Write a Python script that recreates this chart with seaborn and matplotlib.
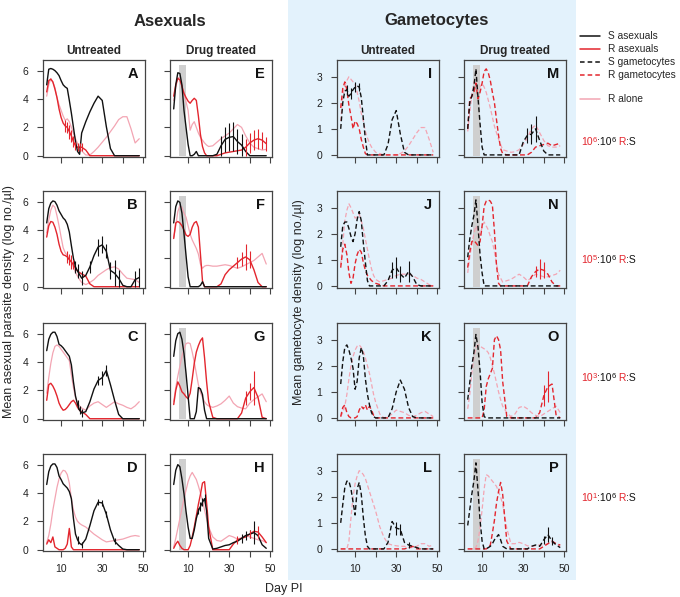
import numpy as np
import pandas as pd
import matplotlib
matplotlib.use('Agg')
from matplotlib import pyplot as plt
from matplotlib.patches import Rectangle
from matplotlib.lines import Line2D
import seaborn as sns

# sampling days (day post infection)
days = [3, 4, 5, 6, 7, 8, 9, 10, 11, 12, 13, 14, 15, 16, 17, 18, 19, 20,
        22, 24, 26, 28, 30, 32, 34, 36, 38, 40, 42, 44, 46, 48]

# ---- asexual densities, untreated (A-D) ----
A_S = [5.0, 6.1, 6.15, 6.1, 6.0, 5.85, 5.65, 5.3, 5.0, 4.85, 4.75, 3.9, 3.0, 2.0, 1.0, 0.3, 0.1, 1.6,
       2.4, 3.1, 3.7, 4.2, 3.9, 2.05, 0.5, 0, 0, 0, 0, 0, 0, 0]
A_R = [4.5, 5.3, 5.4, 5.2, 4.7, 4.1, 3.3, 2.7, 2.3, 2.1, 2.0, 1.7, 1.4, 1.0, 0.7, 0.6, 0.6, 0.6,
       0.4, 0, 0, 0, 0, 0, 0, 0, 0, 0, 0, 0, 0, 0]
A_alone = [4.2, 5.0, 5.45, 5.2, 4.8, 4.1, 3.6, 3.2, 2.8, 2.5, 2.6, 2.4, 2.0, 1.6, 1.2, 0.85, 0.55, 0.35,
           0.05, 0.05, 0.3, 0.6, 0.95, 1.3, 1.7, 2.1, 2.55, 2.75, 2.75, 1.9, 0.9, 1.2]
B_S = [4.5, 5.5, 5.9, 6.05, 6.0, 5.75, 5.35, 5.1, 4.85, 4.7, 4.4, 3.85, 2.9, 2.0, 1.4, 1.1, 0.85, 0.6,
       0.8, 1.4, 2.2, 2.8, 2.95, 2.5, 1.15, 0.95, 0.6, 0.1, 0, 0, 0.5, 0.65]
B_R = [3.5, 4.3, 4.6, 4.55, 4.2, 3.7, 3.0, 2.5, 2.25, 2.2, 2.1, 1.9, 1.75, 1.55, 1.3, 1.1, 1.0, 0.9,
       0.75, 0.2, 0, 0, 0, 0, 0, 0, 0, 0, 0, 0, 0, 0]
B_alone = [3.8, 4.7, 5.4, 5.75, 5.6, 5.0, 4.3, 3.5, 2.75, 2.4, 2.2, 2.0, 1.7, 1.4, 1.0, 0.75, 0.5, 0.3,
           0.15, 0.3, 0.5, 0.8, 1.0, 1.2, 1.35, 1.4, 1.25, 0.9, 0.6, 0.55, 0.5, 0.3]
C_S = [4.8, 5.6, 5.95, 6.1, 6.1, 5.8, 5.25, 5.15, 5.0, 4.8, 4.6, 4.4, 3.8, 2.6, 1.6, 1.0, 0.6, 0.4,
       0.5, 1.2, 2.1, 2.7, 2.9, 3.4, 2.4, 1.3, 0.3, 0, 0, 0, 0, 0]
C_R = [1.3, 2.4, 2.5, 2.3, 2.0, 1.6, 1.1, 0.8, 0.6, 0.65, 0.8, 1.0, 1.2, 1.3, 1.1, 0.8, 0.6, 0.5,
       0.3, 0, 0, 0, 0, 0, 0, 0, 0, 0, 0, 0, 0, 0]
C_alone = [1.8, 2.9, 3.9, 4.65, 5.1, 5.2, 5.1, 4.9, 4.7, 4.5, 4.3, 4.1, 3.1, 2.2, 1.5, 1.1, 0.9, 0.75,
           0.6, 0.9, 1.1, 1.2, 1.0, 0.8, 1.0, 1.2, 1.05, 0.95, 0.8, 0.7, 0.9, 1.2]
D_S = [4.6, 5.5, 5.9, 6.05, 6.05, 5.8, 5.2, 4.95, 4.65, 4.5, 4.35, 4.1, 3.6, 2.2, 1.1, 0.7, 0.45, 0.35,
       0.75, 1.7, 2.75, 3.35, 3.3, 2.5, 1.4, 0.6, 0.3, 0.05, 0, 0, 0, 0]
D_R = [0.4, 0.7, 0.5, 0.9, 0.2, 0.1, 0, 0, 0, 0.1, 0.4, 1.5, 0.2, 0, 0, 0, 0, 0,
       0, 0, 0, 0, 0, 0, 0, 0, 0, 0, 0, 0, 0, 0]
D_alone = [0.5, 1.0, 1.8, 2.8, 3.6, 4.4, 5.0, 5.4, 5.6, 5.55, 5.3, 4.7, 3.6, 2.8, 2.3, 2.0, 1.85, 1.75,
           1.6, 1.35, 1.1, 0.9, 0.7, 0.55, 0.6, 0.65, 0.7, 0.75, 0.85, 0.95, 1.0, 0.95]

# ---- asexual densities, drug treated (E-H) ----
E_S = [3.3, 5.0, 5.85, 5.8, 5.0, 3.2, 2.0, 0.8, 0, 0, 0.1, 0.3, 0, 0, 0, 0, 0, 0,
       0, 0.1, 0.7, 1.15, 1.3, 1.35, 1.0, 0.75, 0.3, 0, 0, 0, 0, 0]
E_R = [4.2, 5.0, 5.45, 5.35, 4.9, 4.4, 4.1, 3.85, 3.7, 3.9, 4.05, 3.9, 2.8, 1.5, 0.65, 0.2, 0, 0,
       0, 0, 0.1, 0.2, 0.25, 0.3, 0.35, 0.4, 0.6, 0.9, 1.1, 1.2, 1.1, 0.85]
E_alone = [3.9, 4.8, 5.5, 5.5, 4.9, 4.4, 3.8, 3.2, 1.8, 2.2, 2.4, 2.0, 1.6, 1.3, 1.1, 0.9, 0.75, 0.65,
           0.7, 0.95, 1.2, 1.4, 1.6, 1.9, 2.2, 2.0, 1.4, 0.9, 0.6, 0.5, 0.4, 0.45]
F_S = [4.5, 5.65, 6.05, 5.95, 5.2, 3.75, 2.2, 0.7, 0, 0, 0, 0, 0, 0.1, 0.35, 0, 0, 0,
       0, 0, 0, 0, 0, 0, 0, 0, 0, 0, 0, 0, 0, 0]
F_R = [3.4, 4.5, 4.6, 4.5, 4.3, 4.0, 3.65, 3.55, 3.7, 4.2, 4.5, 4.6, 4.2, 2.3, 0.4, 0, 0, 0,
       0, 0, 0.2, 0.85, 1.2, 1.45, 1.7, 1.95, 2.1, 1.9, 1.2, 0.3, 0, 0]
F_alone = [3.5, 4.3, 5.3, 5.7, 5.6, 5.2, 4.9, 4.3, 3.7, 3.3, 3.0, 2.7, 2.3, 1.6, 1.3, 1.45, 1.5, 1.5,
           1.45, 1.45, 1.5, 1.55, 1.5, 1.4, 1.3, 1.4, 1.55, 1.7, 1.85, 2.1, 2.35, 1.6]
G_S = [4.4, 5.5, 6.0, 6.1, 5.6, 4.6, 3.2, 1.6, 0, 0, 0, 0.5, 2.2, 2.1, 1.7, 0.6, 0, 0,
       0, 0, 0, 0, 0, 0, 0, 0, 0, 0, 0, 0, 0, 0]
G_R = [1.0, 2.0, 2.6, 2.3, 1.9, 1.75, 1.55, 1.4, 1.8, 2.8, 3.9, 4.7, 5.15, 5.5, 5.7, 4.3, 2.6, 1.2,
       0.1, 0, 0, 0, 0, 0, 0, 0.4, 1.45, 1.9, 2.2, 1.5, 0.1, 0]
G_alone = [1.2, 2.2, 3.0, 3.7, 4.4, 4.9, 5.3, 5.35, 5.3, 4.7, 4.0, 3.2, 2.4, 1.85, 1.5, 1.2, 1.0, 0.9,
           0.8, 0.9, 1.05, 1.3, 1.6, 1.1, 0.85, 0.75, 0.7, 1.1, 1.35, 1.55, 1.75, 1.2]
H_S = [4.6, 5.6, 6.0, 5.85, 5.0, 3.95, 2.7, 1.6, 0.8, 0.8, 1.4, 2.2, 2.75, 3.05, 3.35, 3.6, 2.75, 0.8,
       0.05, 0.1, 0.2, 0.3, 0.35, 0.5, 0.6, 0.8, 1.0, 1.1, 1.2, 1.0, 0.35, 0.1]
H_R = [0.1, 0.4, 0.6, 0.3, 0.1, 0, 0, 0, 0.3, 0.9, 1.6, 2.4, 3.2, 3.9, 4.7, 4.8, 3.3, 1.6,
       0, 0, 0, 0, 0, 0.4, 0.7, 0.8, 0.9, 1.1, 1.3, 1.25, 0.9, 0.5]
H_alone = [0.2, 0.8, 1.5, 2.2, 2.9, 3.6, 4.2, 4.8, 5.2, 5.45, 5.2, 4.95, 4.5, 4.0, 3.5, 2.8, 2.2, 1.6,
           0.9, 0.65, 0.6, 0.8, 1.0, 0.9, 0.75, 0.85, 1.0, 0.9, 0.8, 0.7, 0.65, 0.5]

# ---- gametocyte densities, untreated (I-L) ----
I_S = [1.0, 2.0, 2.45, 2.5, 2.25, 2.35, 2.5, 2.6, 2.65, 2.6, 2.2, 1.4, 0.6, 0, 0, 0, 0, 0,
       0, 0, 0.4, 1.35, 1.7, 0.8, 0.1, 0, 0, 0, 0, 0, 0, 0]
I_R = [1.8, 2.55, 2.8, 2.5, 1.9, 1.5, 1.0, 1.3, 1.2, 1.0, 0.6, 0.3, 0.05, 0, 0, 0, 0, 0,
       0, 0, 0, 0, 0, 0, 0, 0, 0, 0, 0, 0, 0, 0]
I_alone = [1.3, 2.2, 2.65, 2.85, 3.0, 2.9, 2.8, 2.7, 2.4, 2.05, 1.6, 1.3, 0.9, 0.65, 0.45, 0.3, 0.2, 0.1,
           0.05, 0, 0, 0, 0, 0.05, 0.15, 0.35, 0.6, 0.85, 1.05, 1.05, 0.6, 0.1]
J_S = [1.5, 2.3, 2.45, 2.45, 2.2, 1.9, 1.7, 2.0, 2.55, 2.85, 2.5, 1.65, 0.9, 0.2, 0, 0, 0, 0,
       0, 0, 0.2, 0.6, 0.7, 0.45, 0.3, 0.55, 0.35, 0.05, 0, 0, 0, 0]
J_R = [0.7, 1.4, 1.6, 1.2, 0.5, 0.1, 0.3, 0.85, 1.2, 1.4, 1.3, 0.9, 0.6, 0.4, 0.3, 0.2, 0.15, 0.1,
       0.05, 0, 0, 0, 0, 0, 0, 0, 0, 0, 0, 0, 0, 0]
J_alone = [0.8, 1.6, 2.5, 2.9, 3.15, 3.0, 2.8, 2.6, 2.65, 2.75, 2.5, 2.2, 1.8, 1.4, 1.0, 0.65, 0.4, 0.25,
           0.15, 0.2, 0.25, 0.3, 0.4, 0.45, 0.45, 0.45, 0.4, 0.3, 0.25, 0.15, 0.05, 0]
K_S = [1.3, 2.15, 2.7, 2.8, 2.6, 2.3, 1.9, 1.1, 1.4, 2.3, 2.7, 2.4, 1.5, 0.9, 0.5, 0.2, 0.05, 0,
       0, 0, 0, 0.35, 1.0, 1.45, 1.1, 0.4, 0.05, 0, 0, 0, 0, 0]
K_R = [0.05, 0.4, 0.5, 0.2, 0.05, 0, 0, 0, 0.05, 0.3, 0.45, 0.35, 0.5, 0.3, 0.45, 0.3, 0.1, 0,
       0, 0, 0, 0, 0, 0, 0, 0, 0, 0, 0, 0, 0, 0]
K_alone = [0.05, 0.2, 0.45, 0.9, 1.5, 2.0, 2.35, 2.6, 2.75, 2.8, 2.7, 2.55, 2.3, 2.0, 1.7, 1.3, 0.9, 0.6,
           0.15, 0, 0.05, 0.15, 0.3, 0.25, 0.2, 0.1, 0.05, 0.1, 0.2, 0.25, 0.15, 0.05]
L_S = [1.0, 1.7, 2.35, 2.6, 2.6, 2.3, 1.8, 1.3, 2.3, 2.55, 2.1, 1.2, 0.5, 0.1, 0, 0, 0, 0,
       0, 0, 0.25, 1.05, 0.8, 0.75, 0.25, 0.15, 0.1, 0.05, 0, 0, 0, 0]
L_R = [0, 0, 0, 0, 0, 0, 0, 0, 0, 0, 0, 0, 0, 0, 0, 0, 0, 0,
       0, 0, 0, 0, 0, 0, 0, 0.05, 0.1, 0, 0, 0, 0, 0]
L_alone = [0, 0, 0, 0, 0.3, 1.2, 2.0, 2.5, 2.8, 3.0, 2.95, 2.85, 2.7, 2.45, 2.2, 1.95, 1.7, 1.45,
           0.85, 0.45, 0.2, 0.15, 0.12, 0.1, 0.1, 0.05, 0.05, 0.1, 0.2, 0.2, 0.1, 0.15]

# ---- gametocyte densities, drug treated (M-P) ----
M_S = [1.0, 2.0, 2.25, 2.6, 3.3, 2.2, 1.2, 0.3, 0, 0, 0, 0, 0, 0, 0, 0, 0, 0,
       0, 0, 0, 0, 0.5, 0.75, 0.8, 1.0, 0.55, 0.15, 0, 0, 0, 0]
M_R = [1.0, 2.15, 2.25, 2.4, 2.75, 2.15, 2.4, 2.75, 3.2, 3.3, 3.15, 2.85, 2.4, 2.0, 1.35, 0.75, 0.25, 0.05,
       0, 0, 0, 0, 0, 0, 0.1, 0.3, 0.35, 0.4, 0.45, 0.35, 0.4, 0.45]
M_alone = [0.9, 1.6, 2.3, 2.8, 2.75, 2.5, 2.6, 2.75, 2.6, 2.4, 2.1, 1.8, 1.45, 1.1, 0.85, 0.6, 0.4, 0.2,
           0.15, 0.1, 0.12, 0.2, 0.4, 0.65, 1.0, 1.15, 0.85, 0.55, 0.35, 0.3, 0.3, 0.35]
N_S = [1.1, 1.8, 2.3, 2.7, 3.3, 2.3, 1.2, 0.5, 0, 0, 0, 0, 0, 0, 0, 0, 0, 0,
       0, 0, 0, 0, 0, 0, 0, 0, 0, 0, 0, 0, 0, 0]
N_R = [0.7, 1.3, 1.7, 1.75, 1.65, 1.55, 1.7, 2.3, 3.05, 3.25, 3.3, 3.25, 3.1, 2.1, 0.8, 0.1, 0, 0,
       0, 0, 0, 0, 0, 0, 0.35, 0.55, 0.65, 0.6, 0.45, 0.15, 0, 0]
N_alone = [0.5, 1.1, 1.6, 2.0, 2.3, 2.1, 1.95, 2.25, 2.45, 2.3, 2.15, 1.9, 1.7, 1.3, 0.85, 0.45, 0.3, 0.15,
           0.2, 0.25, 0.35, 0.45, 0.35, 0.2, 0.3, 0.45, 0.4, 0.35, 0.35, 0.4, 0.45, 0.6]
O_S = [0.7, 1.35, 2.0, 2.5, 3.2, 2.7, 1.8, 0.6, 0.05, 0, 0, 0, 0, 0, 0, 0, 0, 0,
       0, 0, 0, 0, 0, 0, 0, 0, 0, 0, 0, 0, 0, 0]
O_R = [0, 0, 0, 0, 0, 0, 0, 0, 0.3, 1.2, 1.5, 1.7, 1.9, 3.0, 3.15, 3.0, 2.6, 1.4,
       0.05, 0, 0, 0, 0, 0, 0, 0, 0.2, 0.85, 1.2, 1.3, 0.1, 0]
O_alone = [0.35, 0.9, 1.7, 2.35, 2.7, 2.8, 2.75, 2.7, 2.65, 2.6, 2.5, 2.3, 2.0, 1.7, 1.35, 1.0, 0.7, 0.45,
           0.2, 0.05, 0.15, 0.4, 0.45, 0.35, 0.2, 0.1, 0.05, 0.15, 0.25, 0.35, 0.45, 0.2]
P_S = [0.9, 1.5, 2.1, 2.6, 3.3, 2.25, 1.1, 0.3, 0, 0, 0.05, 0.1, 0.2, 0.35, 0.45, 0.55, 0.35, 0.1,
       0, 0, 0, 0, 0, 0, 0.1, 0.15, 0.1, 0.35, 0.55, 0.3, 0.15, 0.05]
P_R = [0, 0, 0, 0, 0, 0, 0, 0, 0, 0, 0.05, 0.15, 0.6, 1.1, 1.75, 2.2, 2.55, 2.1,
       0.3, 0, 0, 0, 0, 0, 0, 0, 0, 0.1, 0.2, 0.3, 0.2, 0.15]
P_alone = [0, 0, 0, 0, 0.05, 0.3, 0.8, 1.5, 2.3, 2.85, 2.8, 2.7, 2.6, 2.5, 2.4, 2.2, 2.0, 1.7,
           0.8, 0.2, 0.2, 0.25, 0.2, 0.12, 0.1, 0.12, 0.15, 0.15, 0.2, 0.25, 0.2, 0.1]

# error bar half-widths {day: size}
A_R_err = {12: .4, 13: .4, 14: .5, 15: .4, 16: .4, 17: .3, 18: .3, 19: .3, 20: .3}
B_S_err = {17: .4, 18: .5, 20: .5, 24: .4, 28: .6, 30: .6, 32: .5, 34: .6, 36: .9, 38: .6, 46: .6, 48: .7}
B_R_err = {13: .4, 14: .4, 15: .5, 16: .3}
C_S_err = {18: .3, 19: .3, 20: .3, 28: .3, 30: .5, 32: .4}
D_S_err = {18: .3, 20: .2, 28: .2, 30: .2, 32: .2, 36: .2}
E_S_err = {26: .7, 28: .9, 30: 1.0, 32: 1.0, 34: .9, 36: .8}
E_R_err = {38: .6, 40: .7, 42: .7, 44: .7, 46: .6, 48: .5}
F_R_err = {34: .4, 36: .5, 38: .9, 40: .6}
G_R_err = {38: .5, 40: .6, 42: 1.2}
H_S_err = {15: .2, 16: .3, 17: .3, 18: .3, 36: .3, 38: .3, 40: .3, 42: .8}
H_R_err = {34: .3, 40: .3, 44: .4}
I_S_err = {6: .2, 8: .2, 10: .2, 12: .15}
J_S_err = {28: .3, 30: .4, 32: .3, 36: .4}
L_S_err = {30: .25, 32: .2, 36: .1}
M_S_err = {32: .3, 34: .4, 36: .5}
N_R_err = {36: .2, 38: .4, 40: .3}
O_R_err = {40: .4, 42: .6}
P_S_err = {40: .15, 42: .3, 44: .15}

ratios = ['6', '5', '3', '1']

legend_labels = ['S asexuals', 'R asexuals', 'S gametocytes', 'R gametocytes', 'R alone']

panels = [
    ('A', 0, 0, A_S, A_R, A_alone, None, A_R_err),
    ('B', 0, 1, B_S, B_R, B_alone, B_S_err, B_R_err),
    ('C', 0, 2, C_S, C_R, C_alone, C_S_err, None),
    ('D', 0, 3, D_S, D_R, D_alone, D_S_err, None),
    ('E', 1, 0, E_S, E_R, E_alone, E_S_err, E_R_err),
    ('F', 1, 1, F_S, F_R, F_alone, None, F_R_err),
    ('G', 1, 2, G_S, G_R, G_alone, None, G_R_err),
    ('H', 1, 3, H_S, H_R, H_alone, H_S_err, H_R_err),
    ('I', 2, 0, I_S, I_R, I_alone, I_S_err, None),
    ('J', 2, 1, J_S, J_R, J_alone, J_S_err, None),
    ('K', 2, 2, K_S, K_R, K_alone, None, None),
    ('L', 2, 3, L_S, L_R, L_alone, L_S_err, None),
    ('M', 3, 0, M_S, M_R, M_alone, M_S_err, None),
    ('N', 3, 1, N_S, N_R, N_alone, None, N_R_err),
    ('O', 3, 2, O_S, O_R, O_alone, None, O_R_err),
    ('P', 3, 3, P_S, P_R, P_alone, P_S_err, None),
]

sns.set_style('ticks')
plt.rcParams['font.family'] = ['Liberation Sans', 'DejaVu Sans']

BLACK = '#111111'
RED = '#e3262e'
PINK = '#f3a5b3'
BLUE = '#e3f2fc'
GRAY = '#cfcfcf'
FRAME = '#444444'

W, H = 680, 597
fig = plt.figure(figsize=(W / 100, H / 100), dpi=100)

# light blue block behind the gametocyte panels
fig.add_artist(Rectangle((288 / W, 1 - 580 / H), 288 / W, 580 / H,
                         transform=fig.transFigure, color=BLUE, lw=0, zorder=-5))

col_left = [43, 170, 337, 464]
row_top = [60, 191, 323, 454]
pw, ph = 102, 97


def add_err(ax, series, err, color):
    for d, e in err.items():
        v = series[days.index(d)]
        ax.vlines(d, max(v - e, 0), v + e, color=color, lw=0.8, zorder=4)


for letter, c, r, s, rr, alone, s_err, r_err in panels:
    ax = fig.add_axes([col_left[c] / W, 1 - (row_top[r] + ph) / H, pw / W, ph / H])
    gam = c >= 2
    treated = c in (1, 3)
    ax.set_facecolor('none' if gam else 'white')
    if treated:
        ax.axvspan(5.6, 8.9, ymin=0.012, ymax=0.95, color=GRAY, lw=0, zorder=0)
    ls = (0, (3.5, 2)) if gam else '-'
    sns.lineplot(x=days, y=alone, ax=ax, color=PINK, lw=0.9, linestyle=ls, zorder=2)
    sns.lineplot(x=days, y=rr, ax=ax, color=RED, lw=1.0, linestyle=ls, zorder=3)
    sns.lineplot(x=days, y=s, ax=ax, color=BLACK, lw=1.0, linestyle=ls, zorder=3)
    if s_err:
        add_err(ax, s, s_err, BLACK)
    if r_err:
        add_err(ax, rr, r_err, RED)

    ax.set_xlim(1.2, 50.8)
    if gam:
        ax.set_ylim(-0.08, 3.64)
        ax.set_yticks([0, 1, 2, 3])
    else:
        ax.set_ylim(-0.09, 6.75)
        ax.set_yticks([0, 2, 4, 6])
    ax.set_xticks([10, 20, 30, 40, 50])
    ax.set_xticklabels(['10', '', '30', '', '50'] if r == 3 else [''] * 5)
    ax.set_xlabel('')
    ax.set_ylabel('')
    for sp in ax.spines.values():
        sp.set_visible(True)
        sp.set_color(FRAME)
        sp.set_linewidth(0.9)
    ax.tick_params(direction='out', length=4.5, width=0.8, color=FRAME,
                   labelsize=7.5, labelcolor='#222222')
    ax.tick_params(axis='y', pad=6, labelleft=c in (0, 2))
    ax.tick_params(axis='x', pad=5)
    ax.text(0.93, 0.93, letter, transform=ax.transAxes, ha='right', va='top',
            fontsize=10.5, fontweight='bold', color=BLACK)
    if r == 0:
        ax.set_title('Drug treated' if treated else 'Untreated', fontsize=8.5,
                     fontweight='bold', pad=4)

# overlay in pixel coordinates for the free text and legend
ov = fig.add_axes([0, 0, 1, 1])
ov.set_axis_off()
ov.set_xlim(0, W)
ov.set_ylim(H, 0)

ov.text(170, 21, 'Asexuals', ha='center', va='center', fontsize=12, fontweight='bold')
ov.text(437, 21, 'Gametocytes', ha='center', va='center', fontsize=12, fontweight='bold')
ov.text(9, 302, 'Mean asexual parasite density (log no./\u00b5l)', rotation=90,
        ha='center', va='center', fontsize=9)
ov.text(299, 302, 'Mean gametocyte density (log no./\u00b5l)', rotation=90,
        ha='center', va='center', fontsize=9)
ov.text(284, 589, 'Day PI', ha='center', va='center', fontsize=9)

# legend
leg_y = [36, 49, 62, 75, 99]
leg_style = [(BLACK, '-'), (RED, '-'), (BLACK, (0, (3, 2))), (RED, (0, (3, 2))), (PINK, '-')]
for y, label, (col, ls) in zip(leg_y, legend_labels, leg_style):
    ov.add_line(Line2D([580, 600], [y, y], color=col, lw=1.1, linestyle=ls))
    ov.text(608, y, label, va='center', ha='left', fontsize=7.3)

# ratio labels, e.g. 10^6:10^6 R:S with the R parts in red
fig.canvas.draw()
renderer = fig.canvas.get_renderer()
inv = ov.transData.inverted()
ratio_y = [145, 263, 381, 501]
for y, e in zip(ratio_y, ratios):
    pieces = [('10', RED, 7.5, 0), (e, RED, 5.5, 3.5), (':10', BLACK, 7.5, 0),
              ('6', BLACK, 5.5, 3.5), (' R', RED, 7.5, 0), (':S', BLACK, 7.5, 0)]
    x = 581
    for txt, col, size, up in pieces:
        t = ov.text(x, y - up, txt, color=col, fontsize=size, va='baseline', ha='left')
        bb = t.get_window_extent(renderer)
        x = inv.transform((bb.x1, bb.y0))[0]

fig.savefig('out.png', dpi=100)
